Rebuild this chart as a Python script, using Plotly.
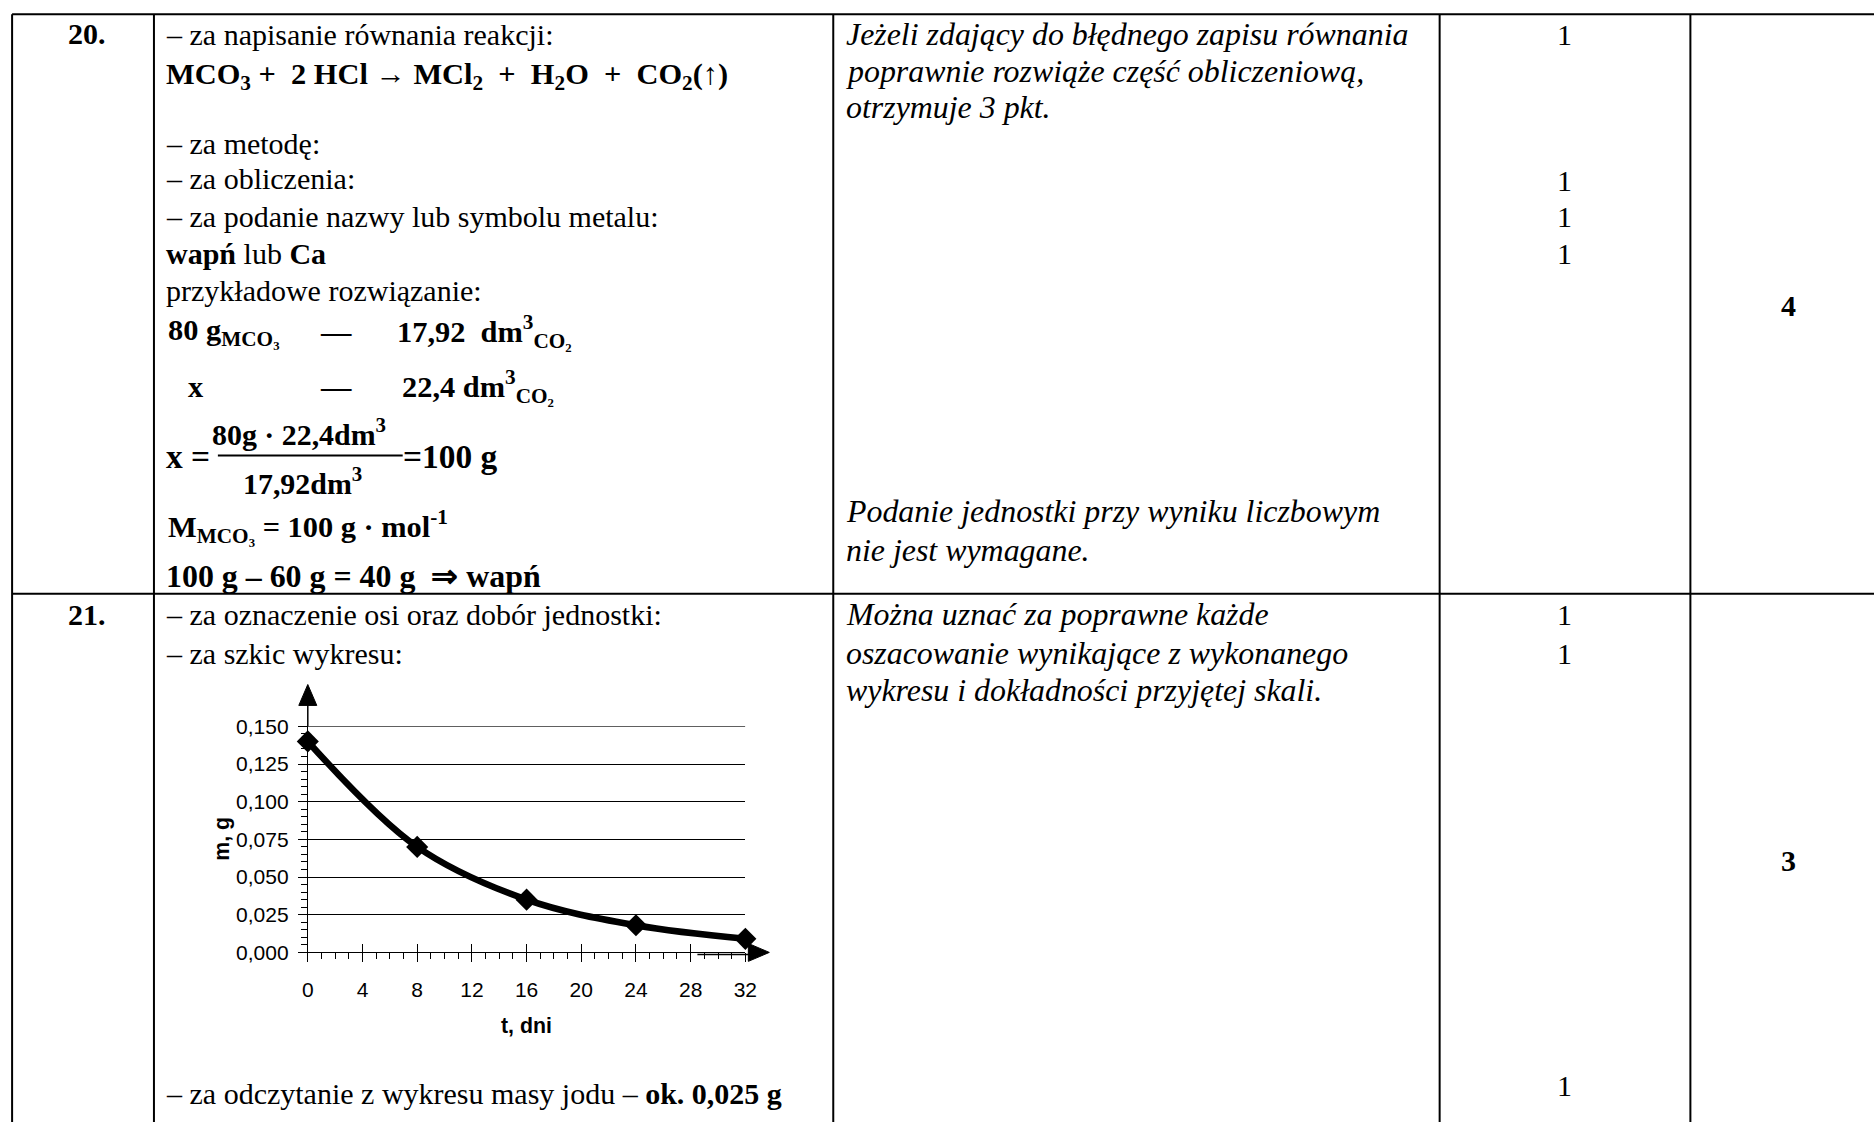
import plotly.graph_objects as go

# ---------------- data ----------------
t_days = [0, 8, 16, 24, 32]
mass_g = [0.140, 0.070, 0.035, 0.018, 0.009]

x_tick_values = [0, 4, 8, 12, 16, 20, 24, 28, 32]
x_tick_labels = ["0", "4", "8", "12", "16", "20", "24", "28", "32"]
y_tick_values = [0.0, 0.025, 0.05, 0.075, 0.1, 0.125, 0.15]
y_tick_labels = ["0,000", "0,025", "0,050", "0,075", "0,100", "0,125", "0,150"]

x_title = "t, dni"
y_title = "m, g"

task_numbers = ["20.", "21."]

row20_criteria = [
    "– za napisanie równania reakcji:",
    "– za metodę:",
    "– za obliczenia:",
    "– za podanie nazwy lub symbolu metalu:",
    "<b>wapń</b> lub <b>Ca</b>",
    "przykładowe rozwiązanie:",
]
row20_equation = "<b>MCO<sub>3</sub> +  2 HCl → MCl<sub>2</sub>  +  H<sub>2</sub>O  +  CO<sub>2</sub>(↑)</b>"
row20_proportion = [
    "<b>80 g<sub>MCO₃</sub></b>", "<b>—</b>", "<b>17,92  dm<sup>3</sup><sub>CO₂</sub></b>",
    "<b>x</b>", "<b>—</b>", "<b>22,4 dm<sup>3</sup><sub>CO₂</sub></b>",
]
row20_fraction = [
    "<b>x =</b>", "<b>80g · 22,4dm<sup>3</sup></b>", "<b>17,92dm<sup>3</sup></b>", "<b>=100 g</b>",
]
row20_result = [
    "<b>M<sub>MCO₃</sub> = 100 g · mol<sup>-1</sup></b>",
    "<b>100 g – 60 g = 40 g  ⇒ wapń</b>",
]
row20_notes = [
    "Jeżeli zdający do błędnego zapisu równania",
    "poprawnie rozwiąże część obliczeniową,",
    "otrzymuje 3 pkt.",
    "Podanie jednostki przy wyniku liczbowym",
    "nie jest wymagane.",
]
row20_points = ["1", "1", "1", "1"]
row20_total = "4"

row21_criteria = [
    "– za oznaczenie osi oraz dobór jednostki:",
    "– za szkic wykresu:",
    "– za odczytanie z wykresu masy jodu – <b>ok. 0,025 g</b>",
]
row21_notes = [
    "Można uznać za poprawne każde",
    "oszacowanie wynikające z wykonanego",
    "wykresu i dokładności przyjętej skali.",
]
row21_points = ["1", "1", "1"]
row21_total = "3"

# ---------------- layout helpers ----------------
FIG_W, FIG_H = 1874, 1122
# empirical correction of the page placement
SX, DX = 0.9914, 4.9
SY, DY = 0.9835, 9.75
SF = 1.0 / 0.987


def px(x):
    return ((x - DX) / SX) / FIG_W


def py(y):
    return 1 - ((y - DY) / SY) / FIG_H


SERIF = "Liberation Serif"
SANS = "Liberation Sans"
FS = 29.6
FS_IT = 31.5

annotations = []


def ann(text, x, y, size=FS, family=SERIF, xanchor="left", italic=False, angle=0):
    if italic:
        text = "<i>" + text + "</i>"
    annotations.append(dict(
        text=text, x=px(x), y=py(y), xref="paper", yref="paper",
        xanchor=xanchor, yanchor="middle", showarrow=False, textangle=angle,
        font=dict(family=family, size=round(size * SF, 1), color="black"),
    ))


shapes = []


def hline(x0, x1, y, w=2):
    shapes.append(dict(type="line", xref="paper", yref="paper",
                       x0=px(x0), x1=px(x1), y0=py(y), y1=py(y),
                       line=dict(color="black", width=w)))


def vline(x, y0, y1, w=2):
    shapes.append(dict(type="line", xref="paper", yref="paper",
                       x0=px(x), x1=px(x), y0=py(y0), y1=py(y1),
                       line=dict(color="black", width=w)))


def tri(points):
    path = "M " + " L ".join(f"{px(a):.5f},{py(b):.5f}" for a, b in points) + " Z"
    shapes.append(dict(type="path", xref="paper", yref="paper", path=path,
                       fillcolor="black", line=dict(color="black", width=1)))


# table grid
TOP, MID = 12, 594
COLS = [11, 153, 833, 1440, 1691]
hline(COLS[0], 1900, TOP)
hline(COLS[0], 1900, MID)
for cx in COLS:
    vline(cx, TOP, 1140)

# column anchors
C1 = 86
C2 = 163
C3 = 844
C4 = 1565
C5 = 1789

# row 20
ann("<b>" + task_numbers[0] + "</b>", C1, 31, xanchor="center")
for txt, yy in zip(row20_criteria, [32, 142, 177, 215, 252, 289]):
    ann(txt, C2, yy)
ann(row20_equation, C2, 74, size=30)
ann(row20_proportion[0], C2 + 2, 331, size=30)
ann(row20_proportion[1], 335, 331, size=30, xanchor="center")
ann(row20_proportion[2], 394, 331, size=30)
ann(row20_proportion[3], 195, 386, size=30, xanchor="center")
ann(row20_proportion[4], 335, 386, size=30, xanchor="center")
ann(row20_proportion[5], 399, 386, size=30)
ann(row20_fraction[0], C2, 456, size=33)
ann(row20_fraction[1], 298, 431, size=29.5, xanchor="center")
ann(row20_fraction[2], 302, 481, size=29.5, xanchor="center")
ann(row20_fraction[3], 400, 456, size=33)
hline(217, 402, 455, w=2)
ann(row20_result[0], C2 + 2, 526, size=30)
ann(row20_result[1], C2, 577, size=31.5)

for txt, yy in zip(row20_notes, [32, 69, 106, 511, 550]):
    ann(txt, C3, yy, size=FS_IT, italic=True)
for txt, yy in zip(row20_points, [32, 179, 215, 252]):
    ann(txt, C4, yy, xanchor="center")
ann("<b>" + row20_total + "</b>", C5, 304, xanchor="center")

# row 21
ann("<b>" + task_numbers[1] + "</b>", C1, 615, xanchor="center")
for txt, yy in zip(row21_criteria, [615, 654, 1096]):
    ann(txt, C2, yy)
for txt, yy in zip(row21_notes, [615, 654, 691]):
    ann(txt, C3, yy, size=FS_IT, italic=True)
for txt, yy in zip(row21_points, [615, 654, 1088]):
    ann(txt, C4, yy, xanchor="center")
ann("<b>" + row21_total + "</b>", C5, 862, xanchor="center")

# ---------------- chart ----------------
PX0, PX1 = 307, 745      # x = 0 .. 32
PY0, PY1 = 954, 727      # y = 0 .. 0.150

ann("<b>" + y_title + "</b>", 221, 840, size=21, family=SANS, xanchor="center", angle=-90)
ann("<b>" + x_title + "</b>", 526, 1028, size=21, family=SANS, xanchor="center")

# axis arrows
vline(PX0, PY1, 702, w=1.5)
tri([(PX0, 685), (PX0 - 9, 706), (PX0 + 9, 706)])
hline(697, 750, PY0 + 2, w=1.5)
tri([(769, PY0), (748, PY0 - 9), (748, PY0 + 9)])

# top gridline (plotly drops the grid line lying on the range edge)
shapes.append(dict(type="line", xref="x", yref="y", x0=x_tick_values[0], x1=x_tick_values[-1],
                   y0=y_tick_values[-1], y1=y_tick_values[-1], line=dict(color="black", width=1)))

fig = go.Figure()
fig.add_trace(go.Scatter(
    x=t_days, y=mass_g, mode="lines+markers",
    line=dict(color="black", width=6.5, shape="spline", smoothing=1.0),
    marker=dict(symbol="diamond", size=17, color="black"),
    cliponaxis=False, showlegend=False, hoverinfo="skip",
))
fig.add_trace(go.Scatter(x=[None], y=[None], xaxis="x2", yaxis="y", showlegend=False, hoverinfo="skip"))
fig.add_trace(go.Scatter(x=[None], y=[None], xaxis="x", yaxis="y2", showlegend=False, hoverinfo="skip"))

tickfont = dict(family=SANS, size=21, color="black")

fig.update_layout(
    width=FIG_W, height=FIG_H, margin=dict(l=0, r=0, t=0, b=0),
    paper_bgcolor="white", plot_bgcolor="rgba(0,0,0,0)",
    showlegend=False,
    xaxis=dict(
        domain=[px(PX0), px(PX1)], range=[0, 32], anchor="y",
        tickmode="array", tickvals=x_tick_values, ticktext=x_tick_labels,
        showline=True, linecolor="black", linewidth=1,
        ticks="outside", ticklen=9, tickwidth=1, tickcolor="black",
        minor=dict(tickmode="linear", tick0=0, dtick=1, ticks="outside", ticklen=6,
                   tickwidth=1, tickcolor="black", showgrid=False),
        showgrid=False, zeroline=False, tickfont=tickfont, ticklabelstandoff=9,
        fixedrange=True,
    ),
    xaxis2=dict(
        overlaying="x", range=[0, 32], anchor="y", side="bottom",
        tickmode="array", tickvals=x_tick_values, ticks="inside", ticklen=8,
        tickwidth=1, tickcolor="black", showticklabels=False,
        showline=False, showgrid=False, zeroline=False, fixedrange=True,
    ),
    yaxis=dict(
        domain=[py(PY0), py(PY1)], range=[0, 0.15], anchor="x",
        tickmode="array", tickvals=y_tick_values, ticktext=y_tick_labels,
        showline=True, linecolor="black", linewidth=1,
        ticks="outside", ticklen=9, tickwidth=1, tickcolor="black",
        minor=dict(tickmode="linear", tick0=0, dtick=0.005, ticks="outside", ticklen=6,
                   tickwidth=1, tickcolor="black", showgrid=False),
        showgrid=True, gridcolor="black", gridwidth=1, zeroline=False,
        tickfont=tickfont, ticklabelstandoff=5, fixedrange=True,
    ),
    yaxis2=dict(
        overlaying="y", range=[0, 0.15], anchor="x", side="left",
        tickmode="array", tickvals=y_tick_values, ticks="inside", ticklen=8,
        tickwidth=1, tickcolor="black", showticklabels=False,
        showline=False, showgrid=False, zeroline=False, fixedrange=True,
    ),
    shapes=shapes,
    annotations=annotations,
)

fig.write_html("out.html", config={"displayModeBar": False},
               post_script="document.body.style.margin='0';document.body.style.overflow='hidden';")
